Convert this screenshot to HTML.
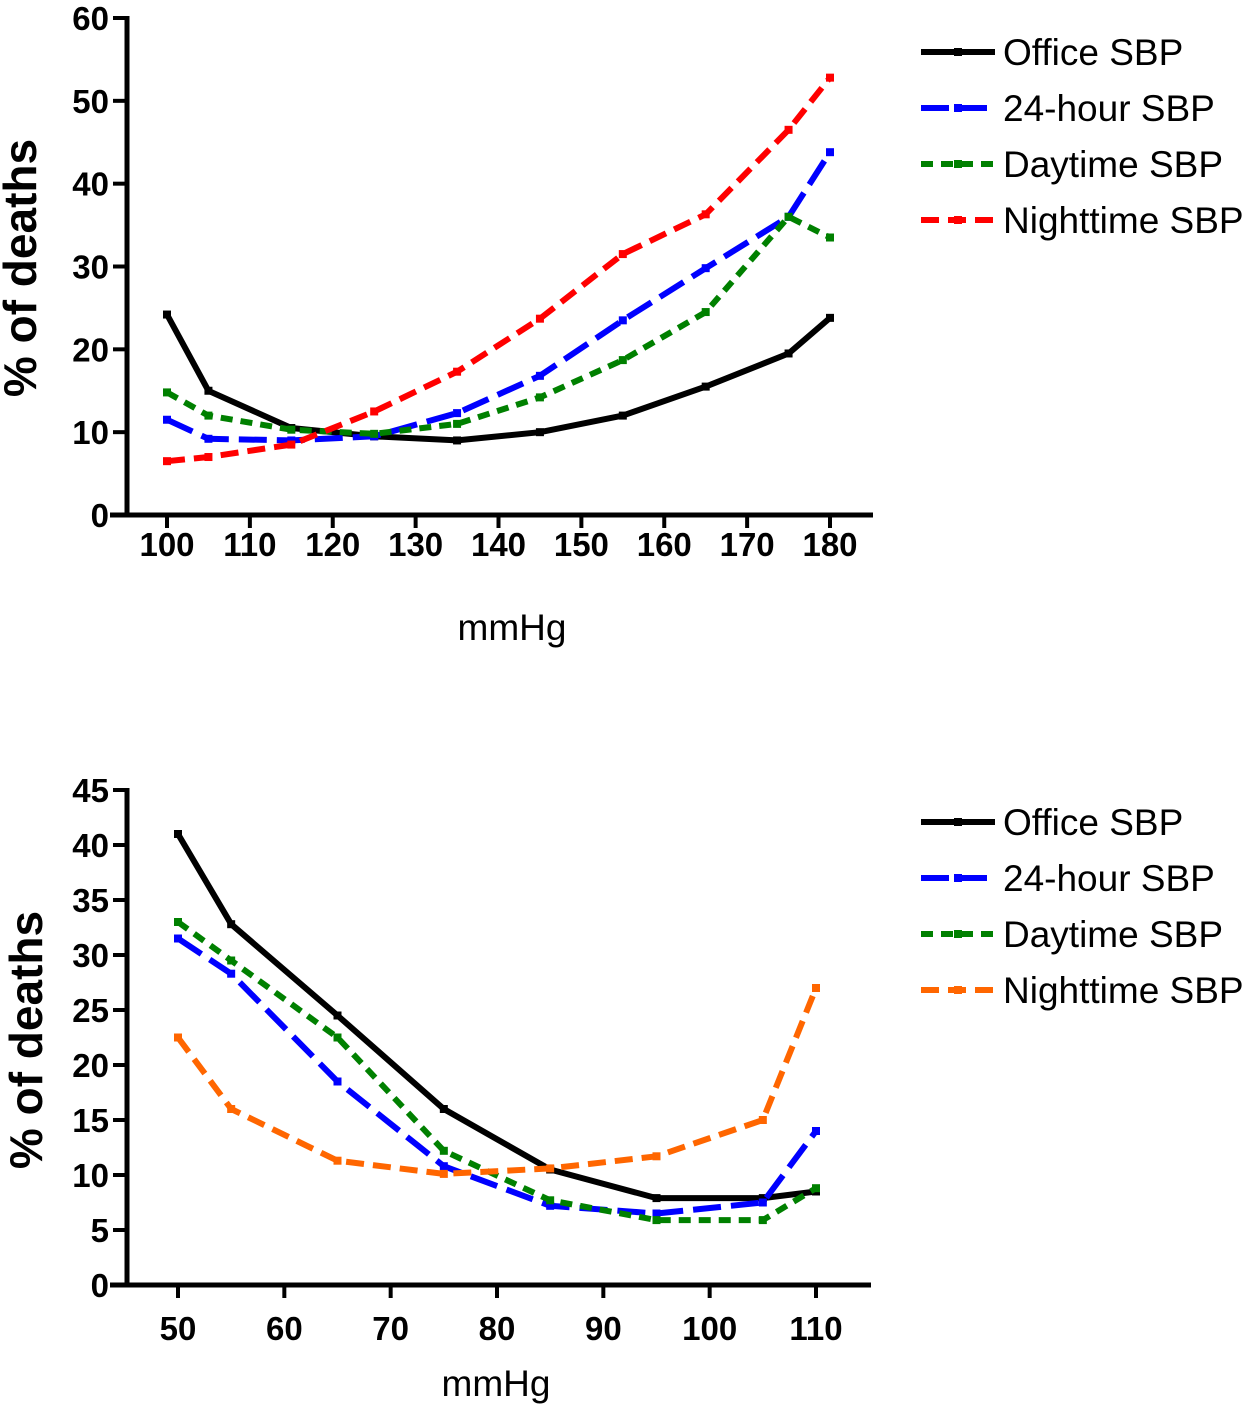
<!DOCTYPE html>
<html><head><meta charset="utf-8"><style>
html,body{margin:0;padding:0;background:#fff;width:1258px;height:1411px;overflow:hidden}
svg{display:block;font-family:"Liberation Sans",Arial,sans-serif}
</style></head><body>
<svg id="s" width="1258" height="1411" viewBox="0 0 1258 1411"></svg>
<script>
// Top chart data
const topX=[100,105,115,125,135,145,155,165,175,180];
const topOffice=[24.2,15,10.5,9.5,9,10,12,15.5,19.5,23.8];
const top24h=[11.5,9.2,9,9.5,12.3,16.8,23.5,29.8,36,43.8];
const topDay=[14.8,12,10.3,9.8,11,14.2,18.7,24.5,36,33.5];
const topNight=[6.5,7,8.5,12.5,17.3,23.7,31.5,36.3,46.5,52.8];
const topXTicks=[100,110,120,130,140,150,160,170,180];
const topYTicks=[0,10,20,30,40,50,60];
// Bottom chart data
const botX=[50,55,65,75,85,95,105,110];
const botOffice=[41,32.8,24.5,16,10.5,7.9,7.9,8.5];
const bot24h=[31.5,28.3,18.5,10.8,7.2,6.5,7.5,14];
const botDay=[33,29.5,22.5,12.2,7.7,5.9,5.9,8.8];
const botNight=[22.5,16,11.3,10.1,10.6,11.7,15,27];
const botXTicks=[50,60,70,80,90,100,110];
const botYTicks=[0,5,10,15,20,25,30,35,40,45];
const legendLabels=["Office SBP","24-hour SBP","Daytime SBP","Nighttime SBP"];

const NS="http://www.w3.org/2000/svg";
const svg=document.getElementById('s');
function el(tag,attrs,parent,text){const e=document.createElementNS(NS,tag);for(const k in attrs)e.setAttribute(k,attrs[k]);if(text!==undefined)e.textContent=text;(parent||svg).appendChild(e);return e;}

function chart(cfg){
  const g=el('g',{});
  
  
  const sx=v=>cfg.x0+(v-cfg.xmin)*(cfg.x1-cfg.x0)/(cfg.xmax-cfg.xmin);
  const sy=v=>cfg.y0+(v-cfg.ymin)*(cfg.y1-cfg.y0)/(cfg.ymax-cfg.ymin);
  const ya=el('line',{x1:cfg.axisX,x2:cfg.axisX,y1:sy(cfg.ymax)-2,y2:sy(cfg.ymin),stroke:'#000','stroke-width':5},g);
  
  const xa=el('line',{x1:cfg.axisXStart,x2:cfg.axisXEnd,y1:sy(cfg.ymin),y2:sy(cfg.ymin),stroke:'#000','stroke-width':5},g);
  
  cfg.yTicks.forEach(t=>{
    el('line',{x1:cfg.axisX-14,x2:cfg.axisX,y1:sy(t),y2:sy(t),stroke:'#000','stroke-width':4},g);
    const tx=el('text',{x:cfg.axisX-18,y:sy(t)+12,'text-anchor':'end','font-size':33,'font-weight':'bold'},g,t);
    
  });
  cfg.xTicks.forEach(t=>{
    el('line',{x1:sx(t),x2:sx(t),y1:sy(cfg.ymin),y2:sy(cfg.ymin)+13,stroke:'#000','stroke-width':4},g);
    const tx=el('text',{x:sx(t),y:cfg.xLabelY,'text-anchor':'middle','font-size':33,'font-weight':'bold'},g,t);
    
  });
  const xt=el('text',{x:cfg.xTitleX,y:cfg.xTitleY,'text-anchor':'middle','font-size':37},g,'mmHg');
  
  const yt=el('text',{x:0,y:0,'text-anchor':'middle','font-size':46,'font-weight':'bold',transform:`translate(${cfg.yTitleX},${cfg.yTitleY}) rotate(-90)`},g,'% of deaths');
  
  cfg.series.forEach((s,i)=>{
    const pts=cfg.xs.map((x,j)=>sx(x).toFixed(1)+','+sy(s.vals[j]).toFixed(1)).join(' ');
    const p=el('polyline',{points:pts,fill:'none',stroke:s.color,'stroke-width':6,'stroke-dasharray':s.dash,'stroke-linejoin':'round'},g);
    
    cfg.xs.forEach((x,j)=>{
      const m=el('rect',{x:sx(x)-4,y:sy(s.vals[j])-4,width:8,height:8,fill:s.color},g);
      
    });
    const ly=cfg.legendY+i*56;
    const lg=el('g',{},g);
    
    el('line',{x1:921,x2:995,y1:ly,y2:ly,stroke:s.color,'stroke-width':6,'stroke-dasharray':s.dash},lg);
    el('rect',{x:954,y:ly-4,width:8,height:8,fill:s.color},lg);
    el('text',{x:1003,y:ly+13,'font-size':37},lg,legendLabels[i]);
  });
}
chart({name:'top-chart',xmin:100,xmax:180,x0:167,x1:830,ymin:0,ymax:60,y0:515,y1:18,axisX:127,axisXStart:110,axisXEnd:873,
  xTicks:topXTicks,yTicks:topYTicks,xs:topX,xLabelY:556,xTitleX:512,xTitleY:640,yTitleX:36,yTitleY:268,legendY:52,
  series:[{key:'office',vals:topOffice,color:'#000',dash:'none'},{key:'24hour',vals:top24h,color:'#0000ff',dash:'28 10'},
  {key:'daytime',vals:topDay,color:'#008000',dash:'12 8'},{key:'nighttime',vals:topNight,color:'#ff0000',dash:'18 9'}]});
chart({name:'bottom-chart',xmin:50,xmax:110,x0:178,x1:816,ymin:0,ymax:45,y0:1285,y1:790,axisX:127,axisXStart:110,axisXEnd:871,
  xTicks:botXTicks,yTicks:botYTicks,xs:botX,xLabelY:1340,xTitleX:496,xTitleY:1396,yTitleX:42,yTitleY:1040,legendY:822,
  series:[{key:'office',vals:botOffice,color:'#000',dash:'none'},{key:'24hour',vals:bot24h,color:'#0000ff',dash:'28 10'},
  {key:'daytime',vals:botDay,color:'#008000',dash:'12 8'},{key:'nighttime',vals:botNight,color:'#ff6600',dash:'18 9'}]});
</script>
</body></html>
